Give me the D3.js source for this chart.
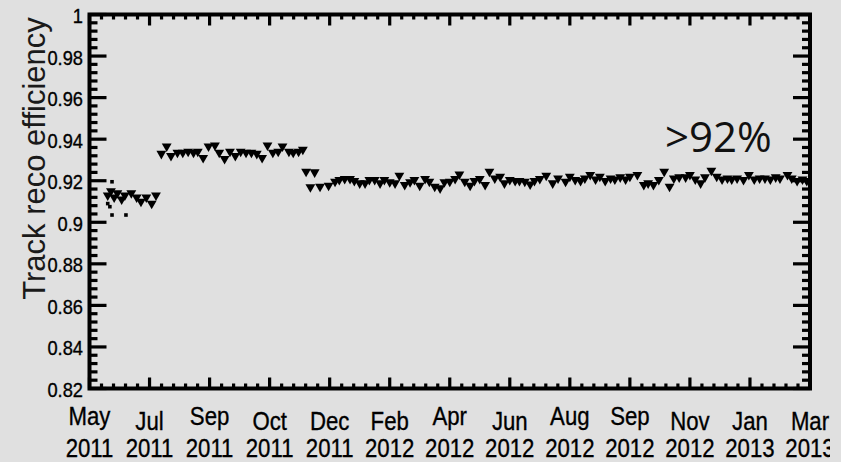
<!DOCTYPE html>
<html>
<head>
<meta charset="utf-8">
<script src="https://cdn.jsdelivr.net/npm/d3@7"></script>
<style>
  html, body { margin: 0; padding: 0; background: #e0e0e0; }
  svg { display: block; }
</style>
</head>
<body>
<svg id="chart" width="841" height="462"></svg>
<script>
// ---------------- DATA ----------------
const axisStart = "2011-05-14";          // first x tick (time axis start)
const tickStepDays = 56;                  // spacing of labelled time ticks
const xTickLabels = [
  ["May","2011"],["Jul","2011"],["Sep","2011"],["Oct","2011"],["Dec","2011"],
  ["Feb","2012"],["Apr","2012"],["Jun","2012"],["Aug","2012"],["Sep","2012"],
  ["Nov","2012"],["Jan","2013"],["Mar","2013"]
];
const yTickValues = [0.82,0.84,0.86,0.88,0.90,0.92,0.94,0.96,0.98,1.00];
const yTickLabels = ["0.82","0.84","0.86","0.88","0.9","0.92","0.94","0.96","0.98","1"];
const yTitle = "Track reco efficiency";
const annotation = ">92%";

// days since axisStart, and efficiency
const seg1Days = [17,20,23,26,30,33,39,44,48,53,58,62];
const seg1Eff  = [0.913,0.915,0.912,0.914,0.911,0.913,0.914,0.912,0.910,0.912,0.909,0.913];

const sqDays = [17,19,21,21,34];
const sqEff  = [0.909,0.9075,0.9195,0.9035,0.9035];

const seg2Days = [67,72,76,82,87,92,97,101,106,111,117,121,126,131,136,141,146,151,156,161,166,171,176,180,186,190,195,199];
const seg2Eff  = [0.933,0.9365,0.932,0.9335,0.9335,0.934,0.9335,0.934,0.931,0.9365,0.937,0.9335,0.9305,0.934,0.932,0.934,0.9335,0.9335,0.933,0.931,0.937,0.9335,0.934,0.9365,0.934,0.9335,0.934,0.935];

const seg3Days = [202,206,210,215,223,229,233,238,243,247,252,257,261,266,271,275,280,285,289,294,
  299,303,308,313,317,322,327,331,336,341,345,350,355,359,364,369,373,378,383,387,
  392,397,401,406,411,415,420,426,432,437,
  444,448,453,458,462,467,472,476,481,486,490,495,500,504,511,517,521,526,531,536,
  541,545,550,556,560,565,570,574,580,585,590,595,599,604,610,615,620,625,630,635,
  640,644,651,655,660,665,669];
const seg3Eff = [0.9244,0.9169,0.9241,0.9172,0.9177,0.9196,0.9204,0.9209,0.9209,0.9199,
  0.9188,0.9188,0.9204,0.9204,0.9188,0.9204,0.9193,0.9188,0.9225,0.918,
  0.9193,0.9204,0.9177,0.9209,0.9196,0.9172,0.9164,0.9193,0.9196,0.9209,
  0.9231,0.9196,0.9177,0.9199,0.9209,0.918,0.9244,0.9212,0.922,0.9188,
  0.9204,0.9199,0.9199,0.9196,0.9183,0.9199,0.9209,0.9225,0.9188,0.9212,
  0.9196,0.922,0.9204,0.92,0.9212,0.9228,0.9207,0.922,0.92,0.9212,
  0.9207,0.9217,0.9207,0.922,0.9228,0.918,0.9188,0.918,0.9204,0.9244,
  0.9172,0.9212,0.9217,0.9217,0.9228,0.9207,0.9188,0.9217,0.9249,0.922,
  0.9207,0.9212,0.9207,0.9212,0.9204,0.9228,0.9207,0.9212,0.9212,0.9207,
  0.9217,0.9212,0.9228,0.9212,0.92,0.9207,0.92];

// ---------------- CHART ----------------
const svg = d3.select("#chart");
const W = 841, H = 462;
const L = 89.5, R = 810, T = 14.5, B = 388.5;

svg.append("rect").attr("width", W).attr("height", H).attr("fill", "#e0e0e0");

const start = new Date(axisStart + "T00:00:00Z");
const nInt = xTickLabels.length - 1;
const x = d3.scaleUtc()
  .domain([start, d3.utcDay.offset(start, tickStepDays * nInt)])
  .range([L, R]);
const y = d3.scaleLinear().domain([0.82, 1]).range([B, T]);

const majorX = d3.range(xTickLabels.length).map(i => d3.utcDay.offset(start, tickStepDays * i));
const minorX = [];
for (let i = 0; i < nInt; i++) for (let k = 1; k < 5; k++)
  minorX.push(new Date(+majorX[i] + (majorX[i+1] - majorX[i]) * k / 5));
const minorY = d3.range(0.82, 1.0001, 0.004).filter(v => Math.abs(Math.round(v / 0.02) * 0.02 - v) > 1e-6);

const frameG = svg.append("g").attr("stroke", "#000").attr("stroke-width", 3.2).attr("stroke-linecap", "butt");

// y ticks (left and right, pointing inward)
yTickValues.forEach(v => {
  frameG.append("line").attr("x1", L).attr("x2", L + 17).attr("y1", y(v)).attr("y2", y(v));
  frameG.append("line").attr("x1", R).attr("x2", R - 17).attr("y1", y(v)).attr("y2", y(v));
});
minorY.forEach(v => {
  frameG.append("line").attr("x1", L).attr("x2", L + 8).attr("y1", y(v)).attr("y2", y(v));
  frameG.append("line").attr("x1", R).attr("x2", R - 8).attr("y1", y(v)).attr("y2", y(v));
});
// x ticks (bottom and top, pointing inward)
majorX.forEach(d => {
  frameG.append("line").attr("x1", x(d)).attr("x2", x(d)).attr("y1", B).attr("y2", B - 11);
  frameG.append("line").attr("x1", x(d)).attr("x2", x(d)).attr("y1", T).attr("y2", T + 11);
});
minorX.forEach(d => {
  frameG.append("line").attr("x1", x(d)).attr("x2", x(d)).attr("y1", B).attr("y2", B - 5);
  frameG.append("line").attr("x1", x(d)).attr("x2", x(d)).attr("y1", T).attr("y2", T + 5);
});

// frame
svg.append("rect").attr("x", L).attr("y", T).attr("width", R - L).attr("height", B - T)
  .attr("fill", "none").attr("stroke", "#000").attr("stroke-width", 4);

// y tick labels
const sx = 0.87;
yTickValues.forEach((v, i) => {
  svg.append("text")
    .attr("transform", `translate(83,${y(v) + 8.5}) scale(${sx},1)`)
    .attr("text-anchor", "end")
    .attr("font-family", "Liberation Sans, Arial, sans-serif")
    .attr("font-size", 21)
    .attr("fill", "#000").attr("stroke", "#000").attr("stroke-width", 0.35)
    .text(yTickLabels[i]);
});

// x tick labels (two lines), clipped like the reference
svg.append("clipPath").attr("id", "lblclip").append("rect")
  .attr("x", 0).attr("y", 0).attr("width", 830).attr("height", H);
const xl = svg.append("g").attr("clip-path", "url(#lblclip)");
majorX.forEach((d, i) => {
  const [mon, yr] = xTickLabels[i];
  const shift = /[gjpqy]/.test(mon) ? -5 : 0;
  xl.append("text")
    .attr("transform", `translate(${x(d)},${430 + shift}) scale(${sx},1)`)
    .attr("text-anchor", "middle")
    .attr("font-family", "Liberation Sans, Arial, sans-serif")
    .attr("font-size", 25.5).attr("fill", "#000").attr("stroke", "#000").attr("stroke-width", 0.35)
    .text(mon);
  xl.append("text")
    .attr("transform", `translate(${x(d)},456.5) scale(${sx},1)`)
    .attr("text-anchor", "middle")
    .attr("font-family", "Liberation Sans, Arial, sans-serif")
    .attr("font-size", 25.5).attr("fill", "#000").attr("stroke", "#000").attr("stroke-width", 0.35)
    .text(yr);
});

// y title
svg.append("text")
  .attr("transform", `translate(45,158.5) rotate(-90)`)
  .attr("text-anchor", "middle")
  .attr("font-family", "Liberation Sans, Arial, sans-serif")
  .attr("font-size", 31)
  .attr("fill", "#1a1a1a")
  .text(yTitle);

// data
const toPts = (days, eff) => days.map((dd, i) => ({ x: d3.utcDay.offset(start, dd), y: eff[i] }));
const tri = d3.symbol().type(d3.symbolTriangle).size(42);
const allTri = [].concat(toPts(seg1Days, seg1Eff), toPts(seg2Days, seg2Eff), toPts(seg3Days, seg3Eff));
svg.append("g").selectAll("path").data(allTri).join("path")
  .attr("d", tri)
  .attr("transform", d => `translate(${x(d.x)},${y(d.y)}) rotate(180)`)
  .attr("fill", "#000");

svg.append("g").selectAll("rect").data(toPts(sqDays, sqEff)).join("rect")
  .attr("x", d => x(d.x) - 1.8).attr("y", d => y(d.y) - 1.8)
  .attr("width", 3.6).attr("height", 3.6).attr("fill", "#000");

// annotation
svg.append("text")
  .attr("x", 665).attr("y", 152)
  .attr("font-family", "Open Sans, sans-serif")
  .attr("font-size", 42)
  .attr("fill", "#111")
  .text(annotation);
</script>
</body>
</html>
